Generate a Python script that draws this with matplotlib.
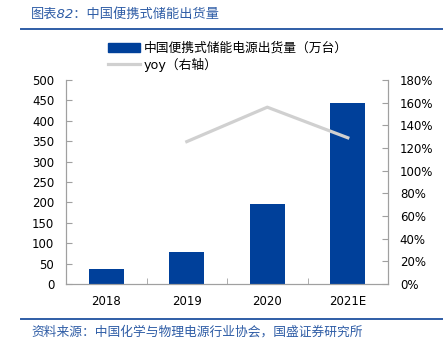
import numpy as np
import matplotlib.pyplot as plt
from matplotlib.lines import Line2D
from matplotlib.patches import Patch
from matplotlib.ticker import FuncFormatter

plt.rcParams['font.family'] = ['DejaVu Sans', 'Noto Sans CJK SC']

years = ['2018', '2019', '2020', '2021E']
shipments = [36, 78, 195, 444]          # 万台
yoy = [np.nan, 125.6, 156, 129]          # %

blue = '#00409A'
title_blue = '#2F5DA6'
grey_line = '#D0D0D0'
spine_c = '#A0A0A0'

fig = plt.figure(figsize=(4.43, 3.54), dpi=100)
ax = fig.add_axes([0.149, 0.198, 0.727, 0.576])
x = np.arange(len(years))
ax.bar(x, shipments, width=0.43, color=blue, zorder=2)
ax.set_xlim(-0.5, 3.5)
ax.set_ylim(0, 500)
ax.set_yticks(np.arange(0, 501, 50))
ax.set_xticks(x)
ax.set_xticklabels(years)
ax.set_xticks(np.arange(-0.5, 3.6, 1), minor=True)
ax.tick_params(axis='x', which='major', length=0, pad=8, labelsize=8.5)
ax.tick_params(axis='x', which='minor', direction='in', length=4, color=spine_c)
ax.tick_params(axis='y', direction='in', length=4, color=spine_c, pad=8.5, labelsize=8.5)

ax2 = ax.twinx()
ax2.plot(x, yoy, color=grey_line, lw=2.3, zorder=3)
ax2.set_ylim(0, 180)
ax2.set_yticks(np.arange(0, 181, 20))
ax2.yaxis.set_major_formatter(FuncFormatter(lambda v, p: '{:.0f}%'.format(v)))
ax2.tick_params(axis='y', direction='in', length=4, color=spine_c, pad=8.5, labelsize=8.5)

for a in (ax, ax2):
    a.spines['top'].set_visible(False)
    for s in ('left', 'right', 'bottom'):
        a.spines[s].set_color(spine_c)
        a.spines[s].set_linewidth(0.8)

handles = [Patch(facecolor=blue, edgecolor=blue),
           Line2D([0], [0], color=grey_line, lw=2.3)]
labels = ['中国便携式储能电源出货量（万台）', 'yoy（右轴）']
fig.legend(handles, labels, loc='upper left', bbox_to_anchor=(0.243, 0.882),
           frameon=False, fontsize=9.2, handlelength=2.5, handleheight=0.75,
           handletextpad=0.35, labelspacing=0.25, borderaxespad=0, borderpad=0)

fig.text(0.07, 0.958, '图表82：中国便携式储能出货量', color=title_blue,
         fontsize=9.5, style='italic', va='center', ha='left')
fig.add_artist(Line2D([0.047, 1.0], [0.918, 0.918], color=title_blue, lw=1.4))
fig.add_artist(Line2D([0.047, 1.0], [0.099, 0.099], color=title_blue, lw=1.4))
fig.text(0.07, 0.062, '资料来源：中国化学与物理电源行业协会，国盛证券研究所', color=title_blue,
         fontsize=9.2, style='italic', va='center', ha='left')

fig.savefig('out.png', dpi=100)
